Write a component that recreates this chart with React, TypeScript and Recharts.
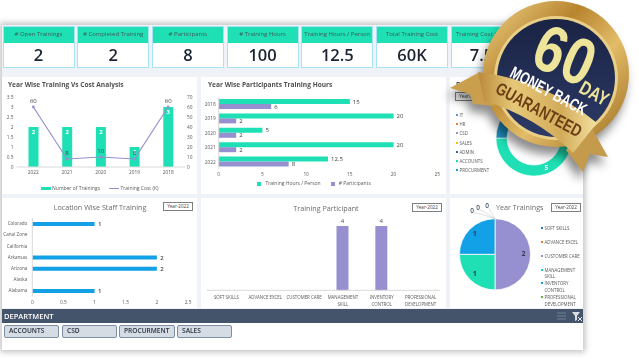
import {
  Bar,
  BarChart,
  Cell,
  ComposedChart,
  LabelList,
  Legend,
  Line,
  Pie,
  PieChart,
  XAxis,
  YAxis,
} from 'recharts';

const TEAL = '#1fe0b5';
const PURPLE = '#9690d0';
const BLUE = '#12a0e6';
const FONT = '"Open Sans", "Noto Sans", sans-serif';
const GREY = '#595959';

const kpiTitles = [
  '# Open Trainings',
  '# Completed Training',
  '# Participants',
  '# Training Hours',
  'Training Hours / Person',
  'Total Training Cost',
  'Training Cost / Person',
];
const kpiValues = ['2', '2', '8', '100', '12.5', '60K', '7.5K'];

const costYears = ['2022', '2021', '2020', '2019', '2018'];
const numberOfTrainings = [2, 2, 2, 1, 3];
const trainingCost = [60, 8, 10, 8, 60];

const hourYears = ['2018', '2019', '2020', '2021', '2022'];
const hoursPerPerson = [15, 20, 5, 20, 12.5];
const participants = [6, 2, 2, 2, 8];

const departments = ['IT', 'ACCOUNTS', 'PROCURMENT', 'HR', 'CSD', 'SALES', 'ADMIN'];
const departmentValues = [1, 5, 2, 0, 0, 0, 0];
const departmentColors = ['#5b9bd5', TEAL, '#1f8fc0', '#ed7d31', PURPLE, '#ffc000', '#3560c0'];
const departmentLegend = ['IT', 'HR', 'CSD', 'SALES', 'ADMIN', 'ACCOUNTS', 'PROCURMENT'];
const departmentLegendColors = ['#5b9bd5', '#ed7d31', PURPLE, '#ffc000', '#3560c0', TEAL, BLUE];

const locations = ['Colorado', 'Canal Zone', 'California', 'Arkansas', 'Arizona', 'Alaska', 'Alabama'];
const locationValues = [1, 0, 0, 2, 2, 0, 1];

const courses = [
  'SOFT SKILLS',
  'ADVANCE EXCEL',
  'CUSTOMER CARE',
  'MANAGEMENT SKILL',
  'INVENTORY CONTROL',
  'PROFESSIONAL DEVELOPMENT',
];
const courseParticipants = [0, 0, 0, 4, 4, 0];
const courseTrainings = [0, 0, 2, 1, 1, 0];
const courseColors = ['#2e75b6', '#ed7d31', PURPLE, TEAL, BLUE, '#70ad47'];

const slicers = ['ACCOUNTS', 'CSD', 'PROCURMENT', 'SALES'];

const costData = costYears.map((year, i) => ({
  year,
  trainings: numberOfTrainings[i],
  cost: trainingCost[i],
}));
const hourData = hourYears.map((year, i) => ({
  year,
  hours: hoursPerPerson[i],
  participants: participants[i],
}));
const departmentData = departments.map((name, i) => ({ name, value: departmentValues[i] }));
const locationData = locations.map((name, i) => ({ name, value: locationValues[i] }));
const courseData = courses.map((name, i) => ({ name, value: courseParticipants[i] }));
const pieData = courses.map((name, i) => ({ name, value: courseTrainings[i] }));

const tick = { fontSize: 4.8, fill: GREY, fontFamily: FONT };
const noMargin = { top: 0, right: 0, bottom: 0, left: 0 };

const legendText = (value: string) => <span style={{ color: GREY, fontSize: 5 }}>{value}</span>;

// wide swatches, the default legend icons are square
const CostLegend = ({ payload }: any) => (
  <div style={{ display: 'flex', justifyContent: 'center', gap: 9, fontSize: 5, lineHeight: '8px', color: GREY, paddingTop: 4 }}>
    {(payload || []).map((item: any) => (
      <div key={item.value} style={{ display: 'flex', alignItems: 'center', gap: 1.5 }}>
        <div
          style={{
            width: 10,
            height: item.type === 'line' ? 1 : 3,
            background: item.color,
          }}
        />
        {item.value}
      </div>
    ))}
  </div>
);

const Panel = ({ x, y, w, h, children }: any) => (
  <div style={{ position: 'absolute', left: x, top: y, width: w, height: h, background: '#fff' }}>
    {children}
  </div>
);

const PanelTitle = ({ x, y, bold, anchor, children }: any) => (
  <div
    style={{
      position: 'absolute',
      left: x,
      top: y,
      fontSize: bold ? 6.6 : 7.2,
      fontWeight: bold ? 700 : 400,
      color: bold ? '#505050' : '#6b6b6b',
      whiteSpace: 'nowrap',
      lineHeight: '10px',
      transform: anchor === 'middle' ? 'translateX(-50%)' : undefined,
      zIndex: 2,
    }}
  >
    {children}
  </div>
);

const YearBox = ({ x, y }: any) => (
  <div
    style={{
      position: 'absolute',
      left: x,
      top: y,
      width: 30,
      height: 9,
      boxSizing: 'border-box',
      border: '1px solid #7f7f7f',
      background: '#fff',
      fontSize: 4.6,
      lineHeight: '7px',
      textAlign: 'center',
      color: '#404040',
      zIndex: 2,
    }}
  >
    Year-2022
  </div>
);

const Kpi = ({ index }: { index: number }) => (
  <div
    style={{
      position: 'absolute',
      left: 2.5 + index * 74.7,
      top: 26,
      width: 72,
      height: 42,
      boxSizing: 'border-box',
      border: '1px solid #a8e2f6',
      background: '#fff',
      textAlign: 'center',
    }}
  >
    <div style={{ background: TEAL, height: 16, fontSize: 6, lineHeight: '15px', color: '#3d5a55' }}>
      {kpiTitles[index]}
    </div>
    <div style={{ fontSize: 16.5, lineHeight: '24px', fontWeight: 600, color: '#1a2433' }}>
      {kpiValues[index]}
    </div>
  </div>
);

const CourseTick = ({ x, y, payload }: any) => {
  const name: string = payload.value;
  const lines = name.length > 13 ? name.split(' ') : [name];
  return (
    <text x={x} y={y + 7} textAnchor="middle" fontSize={4.4} fill={GREY} fontFamily={FONT}>
      {lines.map((line, i) => (
        <tspan key={line} x={x} dy={i === 0 ? 0 : 6.2}>
          {line}
        </tspan>
      ))}
    </text>
  );
};

// plain tick so that recharts does not wrap "Canal Zone"
const NameTick = ({ x, y, payload }: any) => (
  <text x={x - 3} y={y + 1.7} textAnchor="end" fontSize={4.6} fill={GREY} fontFamily={FONT}>
    {payload.value}
  </text>
);

// the zero slices all sit at 12 o'clock, so their labels get fanned out by hand
const zeroLabelShift: Record<number, [number, number]> = {
  0: [-23, -7],
  1: [-17, -10],
  5: [-8, -12],
};

const PieValue = ({ cx, cy, midAngle, outerRadius, value, index }: any) => {
  if (value === 0) {
    const [dx, dy] = zeroLabelShift[index];
    const topY = cy - outerRadius;
    return (
      <g>
        <polyline
          points={`${cx},${topY} ${cx + dx * 0.55},${topY + dy * 0.6} ${cx + dx + 2},${topY + dy + 1}`}
          fill="none"
          stroke="#bfbfbf"
          strokeWidth={0.5}
        />
        <text x={cx + dx} y={topY + dy} textAnchor="middle" dominantBaseline="middle" fontSize={6.5} fontWeight={600} fill="#44546a">
          0
        </text>
      </g>
    );
  }
  const rad = (midAngle * Math.PI) / 180;
  const r = outerRadius * 0.8;
  return (
    <text
      x={cx + r * Math.cos(rad)}
      y={cy - r * Math.sin(rad)}
      textAnchor="middle"
      dominantBaseline="middle"
      fontSize={7}
      fontWeight={700}
      fill="#303a52"
    >
      {value}
    </text>
  );
};

const DonutValue = ({ cx, cy, midAngle, innerRadius, outerRadius, value }: any) => {
  if (value !== 5) return null;
  const rad = (midAngle * Math.PI) / 180;
  const r = (innerRadius + outerRadius) / 2;
  return (
    <text
      x={cx + r * Math.cos(rad)}
      y={cy - r * Math.sin(rad)}
      textAnchor="middle"
      dominantBaseline="middle"
      fontSize={6.5}
      fontWeight={700}
      fill="#fff"
    >
      {value}
    </text>
  );
};

const DotList = ({ x, rows }: { x: number; rows: { y: number; color: string; lines: string[] }[] }) => (
  <>
    {rows.map((row) => (
      <div key={row.lines[0]}>
        <div
          style={{
            position: 'absolute',
            left: x,
            top: row.y - 1,
            width: 2,
            height: 2,
            background: row.color,
          }}
        />
        {row.lines.map((line, i) => (
          <div
            key={line}
            style={{
              position: 'absolute',
              left: x + 3.5,
              top: row.y - 3 + i * 6.2,
              fontSize: 4.4,
              lineHeight: '6px',
              color: GREY,
              whiteSpace: 'nowrap',
            }}
          >
            {line}
          </div>
        ))}
      </div>
    ))}
  </>
);

const Badge = () => (
  <svg
    width={639}
    height={359}
    style={{ position: 'absolute', left: 0, top: 0, zIndex: 5, filter: 'drop-shadow(-3px 8px 5px rgba(0,0,0,0.45))' }}
  >
    <defs>
      <linearGradient id="gold" x1="0" y1="0" x2="1" y2="1">
        <stop offset="0" stopColor="#f0d68c" />
        <stop offset="0.35" stopColor="#b8842e" />
        <stop offset="0.6" stopColor="#e2bc68" />
        <stop offset="1" stopColor="#9a6a1e" />
      </linearGradient>
      <linearGradient id="navy" x1="0" y1="0" x2="0" y2="1">
        <stop offset="0" stopColor="#1a2344" />
        <stop offset="1" stopColor="#2c3a66" />
      </linearGradient>
      <linearGradient id="band" x1="0" y1="0" x2="1" y2="0">
        <stop offset="0" stopColor="#b98a3a" />
        <stop offset="0.3" stopColor="#e6c878" />
        <stop offset="0.7" stopColor="#d3ac5a" />
        <stop offset="1" stopColor="#f3e0a0" />
      </linearGradient>
    </defs>
    <circle cx={556} cy={74} r={73} fill="url(#gold)" />
    <circle cx={556} cy={78} r={62} fill="#e9cf88" />
    <circle cx={556} cy={78} r={59} fill="url(#navy)" />
    <path d="M478 73 L450 88 L470 94 L473 104 L495 106 Z" fill="#c99f4e" />
    <path d="M590 125 L608 157 L590 154 L583 172 L566 150 Z" fill="#c49a4c" />
    <path d="M478 72 Q545 80 597 123 L573 153 Q535 116 484 101 Z" fill="url(#band)" />
    <g fontFamily='"Liberation Sans Narrow", "Liberation Sans", sans-serif' fontWeight={700} textAnchor="middle">
      <text transform="translate(556 76) rotate(23) scale(1 1.22)" fontSize={54} fill="#efe59a">
        60
      </text>
      <text transform="translate(591 99) rotate(29) scale(1 1.3)" fontSize={15} fill="#efe59a">
        DAY
      </text>
      <text transform="translate(546 96) rotate(28) scale(0.95 1.3)" fontSize={13} fill="#ffffff">
        MONEY BACK
      </text>
      <text transform="translate(536 115) rotate(28.5) scale(1 1.3)" fontSize={13.5} fill="#6b3f16">
        GUARANTEED
      </text>
    </g>
  </svg>
);

const departmentRows = departmentLegend.map((name, i) => ({
  y: 115 + i * 9.2,
  color: departmentLegendColors[i],
  lines: [name],
}));

const pieLegendY = [228, 242.3, 256, 269.7, 283.3, 297.3];
const pieRows = courses.map((name, i) => ({
  y: pieLegendY[i],
  color: courseColors[i],
  lines: name.length > 13 ? name.split(' ') : [name],
}));

export default function App() {
  return (
    <div style={{ position: 'absolute', left: 0, top: 0, width: 639, height: 359, overflow: 'hidden', background: '#fff', fontFamily: FONT }}>
      <div style={{ position: 'absolute', left: 0, top: 0, width: 639, height: 359, filter: 'blur(0.45px)' }}>
        <div
          style={{
            position: 'absolute',
            left: 2,
            top: 25,
            width: 581,
            height: 325,
            background: '#eff3f7',
            boxShadow: '0 0 6px 2px rgba(0,0,0,0.25)',
          }}
        />
        {kpiTitles.map((_, i) => (
          <Kpi key={i} index={i} />
        ))}

        <Panel x={2} y={77} w={195} h={117}>
          <PanelTitle x={6} y={3} bold>
            Year Wise Training Vs Cost Analysis
          </PanelTitle>
          <ComposedChart width={195} height={117} data={costData} margin={{ top: 20, right: 0, bottom: 0, left: 0 }}>
            <XAxis dataKey="year" tick={tick} tickSize={0} tickMargin={4} axisLine={{ stroke: '#d9d9d9' }} height={13} />
            <YAxis
              yAxisId="left"
              domain={[0, 3.5]}
              ticks={[0, 0.5, 1, 1.5, 2, 2.5, 3, 3.5]}
              interval={0}
              tick={tick}
              tickSize={0}
              tickMargin={3}
              width={14.5}
              axisLine={false}
            />
            <YAxis
              yAxisId="right"
              orientation="right"
              domain={[0, 70]}
              ticks={[0, 10, 20, 30, 40, 50, 60, 70]}
              interval={0}
              tick={tick}
              tickSize={0}
              tickMargin={2}
              width={12}
              axisLine={false}
            />
            <Legend verticalAlign="bottom" height={14} content={<CostLegend />} itemSorter={null} />
            <Bar yAxisId="left" dataKey="trainings" name="Number of Trainings" fill={TEAL} barSize={10} isAnimationActive={false}>
              <LabelList dataKey="trainings" position="insideTop" fill="#fff" fontSize={6} fontWeight={700} offset={3} />
            </Bar>
            <Line
              yAxisId="right"
              dataKey="cost"
              name="Training Cost (K)"
              stroke={PURPLE}
              strokeWidth={1.2}
              dot={{ r: 0.8, fill: PURPLE, stroke: PURPLE }}
              isAnimationActive={false}
            >
              <LabelList dataKey="cost" position="top" fill="#404040" fontSize={6} offset={4} />
            </Line>
          </ComposedChart>
        </Panel>

        <Panel x={201} y={77} w={245} h={117}>
          <PanelTitle x={7} y={3} bold>
            Year Wise Participants Training Hours
          </PanelTitle>
          <BarChart
            width={245}
            height={117}
            data={hourData}
            layout="vertical"
            barGap={0}
            margin={{ top: 20, right: 8.7, bottom: 0, left: 0 }}
          >
            <XAxis
              type="number"
              domain={[0, 25]}
              ticks={[0, 5, 10, 15, 20, 25]}
              tick={tick}
              tickSize={0}
              tickMargin={4}
              axisLine={false}
              height={11}
            />
            <YAxis
              type="category"
              dataKey="year"
              tick={tick}
              tickSize={0}
              tickMargin={3}
              axisLine={{ stroke: '#d9d9d9' }}
              width={17.7}
            />
            <Legend verticalAlign="bottom" height={14} iconSize={4} iconType="square" formatter={legendText} itemSorter={null} wrapperStyle={{ fontSize: 5 }} />
            <Bar dataKey="hours" name="Training Hours / Person" fill={TEAL} barSize={5} isAnimationActive={false}>
              <LabelList dataKey="hours" position="right" fill="#404040" fontSize={6} offset={3} />
            </Bar>
            <Bar dataKey="participants" name="# Participants" fill={PURPLE} barSize={5} isAnimationActive={false}>
              <LabelList dataKey="participants" position="right" fill="#404040" fontSize={6} offset={3} />
            </Bar>
          </BarChart>
        </Panel>

        <Panel x={450} y={77} w={133} h={117}>
          <PieChart width={133} height={117} margin={noMargin}>
            <Pie
              data={departmentData}
              dataKey="value"
              cx={84}
              cy={61}
              innerRadius={27}
              outerRadius={38}
              startAngle={90}
              endAngle={-270}
              stroke="#fff"
              strokeWidth={0.6}
              label={DonutValue}
              labelLine={false}
              isAnimationActive={false}
            >
              {departmentData.map((entry, i) => (
                <Cell key={entry.name} fill={departmentColors[i]} />
              ))}
            </Pie>
          </PieChart>
          <PanelTitle x={6} y={3} bold>
            Department Wise
          </PanelTitle>
          <YearBox x={5} y={15} />
        </Panel>
        <DotList x={456} rows={departmentRows} />

        <Panel x={2} y={198} w={195} h={110}>
          <PanelTitle x={98} y={4} anchor="middle">
            Location Wise Staff Training
          </PanelTitle>
          <YearBox x={161} y={4} />
          <BarChart
            width={195}
            height={110}
            data={locationData}
            layout="vertical"
            margin={{ top: 20, right: 9, bottom: 0, left: 0 }}
          >
            <XAxis
              type="number"
              domain={[0, 2.5]}
              ticks={[0, 0.5, 1, 1.5, 2, 2.5]}
              tick={tick}
              tickSize={0}
              tickMargin={4}
              axisLine={false}
              height={11.7}
            />
            <YAxis
              type="category"
              dataKey="name"
              tick={<NameTick />}
              tickSize={0}
              axisLine={{ stroke: '#d9d9d9' }}
              width={30.3}
              interval={0}
            />
            <Bar dataKey="value" fill={BLUE} barSize={4} isAnimationActive={false}>
              <LabelList dataKey="value" position="right" fill="#404040" fontSize={6} fontWeight={600} offset={3.5} />
            </Bar>
          </BarChart>
        </Panel>

        <Panel x={201} y={198} w={245} h={110}>
          <PanelTitle x={125} y={5} anchor="middle">
            Training Participant
          </PanelTitle>
          <YearBox x={211} y={5} />
          <BarChart width={245} height={110} data={courseData} margin={{ top: 28, right: 6, bottom: 0, left: 6 }}>
            <XAxis
              dataKey="name"
              tick={<CourseTick />}
              tickSize={0}
              axisLine={{ stroke: '#d9d9d9' }}
              height={17.7}
              interval={0}
            />
            <YAxis hide domain={[0, 4]} />
            <Bar dataKey="value" fill={PURPLE} barSize={12} isAnimationActive={false}>
              <LabelList dataKey="value" position="top" fill="#505050" fontSize={6} offset={3} />
            </Bar>
          </BarChart>
        </Panel>

        <Panel x={450} y={198} w={133} h={110}>
          <PanelTitle x={46} y={4}>
            Year Trainings
          </PanelTitle>
          <YearBox x={101} y={5} />
          <PieChart width={133} height={110} margin={noMargin} style={{ position: 'absolute', left: 0, top: 0 }}>
            <Pie
              data={pieData}
              dataKey="value"
              cx={45}
              cy={56.3}
              innerRadius={0}
              outerRadius={35.6}
              startAngle={90}
              endAngle={-270}
              stroke="#fff"
              strokeWidth={0.8}
              label={PieValue}
              labelLine={false}
              isAnimationActive={false}
            >
              {pieData.map((entry, i) => (
                <Cell key={entry.name} fill={courseColors[i]} />
              ))}
            </Pie>
          </PieChart>
        </Panel>
        <DotList x={541} rows={pieRows} />

        <div style={{ position: 'absolute', left: 2, top: 309, width: 581, height: 14, background: '#44546a' }}>
          <div style={{ position: 'absolute', left: 2, top: 0, fontSize: 7.5, lineHeight: '14px', fontWeight: 600, color: '#fff' }}>
            DEPARTMENT
          </div>
          <svg width={30} height={14} style={{ position: 'absolute', left: 553, top: 0 }}>
            <path d="M2 4H11M2 7H11M2 10H11" stroke="#6f7f94" strokeWidth={1} />
            <path d="M17 3H25L22 7V11L20 12V7Z" fill="#d9dee5" />
            <path d="M23 8L27 12M27 8L23 12" stroke="#e8e8e8" strokeWidth={1} />
          </svg>
        </div>
        <div style={{ position: 'absolute', left: 2, top: 323, width: 581, height: 27, background: '#fff' }} />
        {slicers.map((name, i) => (
          <div
            key={name}
            style={{
              position: 'absolute',
              left: [4, 62, 119, 177][i],
              top: 325,
              width: [55, 55, 56, 55][i],
              height: 12.5,
              boxSizing: 'border-box',
              border: '1px solid #7d8da3',
              borderRadius: 2,
              background: '#d6dce4',
              fontSize: 6.6,
              fontWeight: 600,
              lineHeight: '10.5px',
              paddingLeft: 4,
              color: '#26303f',
            }}
          >
            {name}
          </div>
        ))}
        <Badge />
      </div>
    </div>
  );
}
